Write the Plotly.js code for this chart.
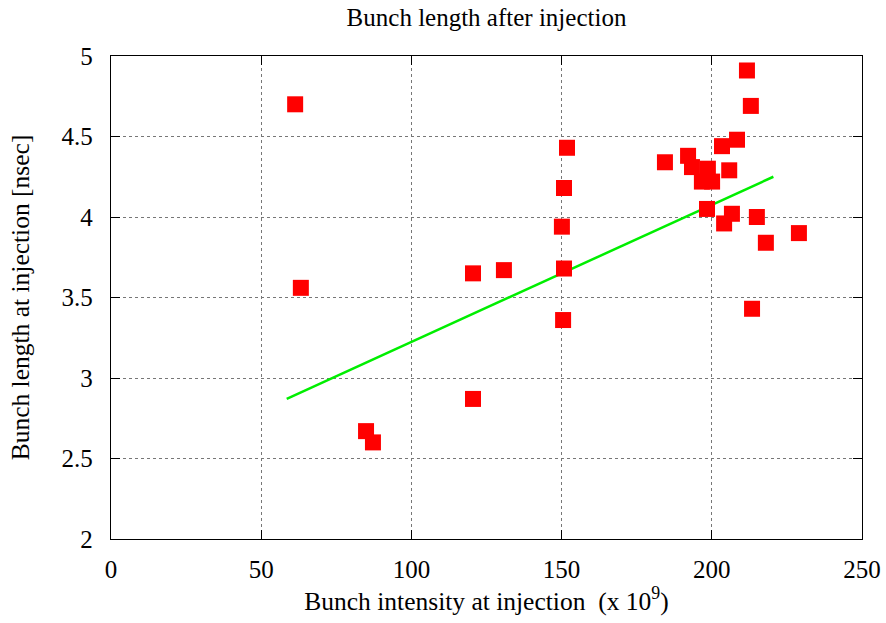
<!DOCTYPE html>
<html>
<head>
<meta charset="utf-8">
<script src="https://cdn.plot.ly/plotly-3.0.1.min.js"></script>
<style>
  html, body { margin: 0; padding: 0; background: #fff; }
  #chart { width: 886px; height: 623px; }
</style>
</head>
<body>
<div id="chart"></div>
<script>
// Measured bunch intensity (x 10^9) and bunch length (nsec) at injection
const intensity = [61.3, 63.2, 84.9, 87.2, 120.5, 120.5, 130.8,
                   151.8, 150.8, 150.1, 150.8, 150.5,
                   184.4, 192.1, 193.4, 198.7, 196.7, 200.1,
                   203.4, 205.8, 208.4, 211.7, 213.0,
                   198.4, 206.7, 204.1, 215.0, 229.0, 218.0, 213.4];
const bunchLength = [4.70, 3.56, 2.67, 2.60, 3.65, 2.87, 3.67,
                     4.43, 4.18, 3.94, 3.68, 3.36,
                     4.34, 4.38, 4.31, 4.30, 4.22, 4.22,
                     4.44, 4.29, 4.48, 4.91, 4.69,
                     4.05, 4.02, 3.96, 4.00, 3.90, 3.84, 3.43];

// Linear fit endpoints
const fitX = [58.5, 220.5];
const fitY = [2.87, 4.25];

const serif = 'Liberation Serif, Times New Roman, serif';

const traces = [
  {
    x: fitX, y: fitY,
    type: 'scatter', mode: 'lines',
    line: { color: '#00ee00', width: 2.5 },
    hoverinfo: 'skip'
  },
  {
    x: intensity, y: bunchLength,
    type: 'scatter', mode: 'markers',
    marker: { symbol: 'square', size: 16, color: '#ff0000', line: { width: 0 } }
  }
];

const axisCommon = {
  showline: true, linecolor: '#000', linewidth: 1.3, mirror: 'ticks',
  ticks: 'inside', ticklen: 9, tickwidth: 1, tickcolor: '#000',
  showgrid: true, gridcolor: '#777', griddash: 'dot', gridwidth: 1,
  zeroline: false,
  tickfont: { family: serif, size: 25, color: '#000' }
};

const layout = {
  width: 886, height: 623,
  margin: { l: 111, r: 24, t: 56, b: 84 },
  paper_bgcolor: '#fff', plot_bgcolor: '#fff',
  showlegend: false,
  title: {
    text: 'Bunch length after injection',
    font: { family: serif, size: 25, color: '#000' },
    xref: 'paper', x: 0.5, xanchor: 'center', y: 0.972, yanchor: 'middle'
  },
  xaxis: Object.assign({}, axisCommon, {
    range: [0, 250], dtick: 50, tick0: 0,
    ticklabelstandoff: 8,
    title: { text: 'Bunch intensity at injection  (x 10<sup>9</sup>)',
             font: { family: serif, size: 25.5, color: '#000' }, standoff: 8 }
  }),
  yaxis: Object.assign({}, axisCommon, {
    range: [2, 5], dtick: 0.5, tick0: 2,
    ticklabelstandoff: 12,
    title: { text: 'Bunch length at injection [nsec]',
             font: { family: serif, size: 25.5, color: '#000' }, standoff: 24 }
  })
};

Plotly.newPlot('chart', traces, layout, { displayModeBar: false, staticPlot: true });
</script>
</body>
</html>
